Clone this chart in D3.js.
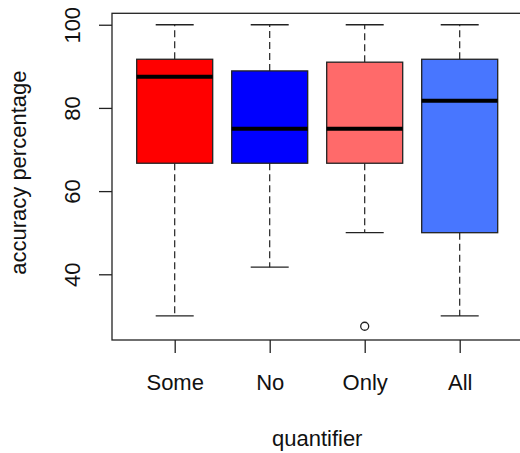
<!DOCTYPE html>
<html>
<head>
<meta charset="utf-8">
<script src="https://cdn.jsdelivr.net/npm/d3@7"></script>
<style>
  body { margin: 0; background: #fff; }
  svg { display: block; font-family: "Liberation Sans", Arial, sans-serif; }
</style>
</head>
<body>
<div id="chart"></div>
<script>
// values
const categories = ['Some', 'No', 'Only', 'All'];
const whiskerLow = [30, 41.7, 50, 30];
const q1 = [66.7, 66.7, 66.7, 50];
const medians = [87.5, 75, 75, 81.7];
const q3 = [91.7, 88.9, 91, 91.7];
const whiskerHigh = [100, 100, 100, 100];
const outliers = [[], [], [27.5], []];
const fills = ['#FF0000', '#0000FF', '#FF6A6A', '#4876FF'];
const yTicks = [40, 60, 80, 100];

const width = 520, height = 453;
const plotLeft = 112, plotTop = 13.3, plotBottom = 340, plotRight = 522.4;

const svg = d3.select('#chart').append('svg')
  .attr('width', width)
  .attr('height', height);

const x = d3.scaleLinear().domain([0.34, 4.66]).range([plotLeft, plotRight]);
const y = d3.scaleLinear().domain([24.2, 102.75]).range([plotBottom, plotTop]);

const boxes = categories.map((c, i) => ({
  name: c, pos: i + 1, lo: whiskerLow[i], q1: q1[i], med: medians[i],
  q3: q3[i], hi: whiskerHigh[i], out: outliers[i], fill: fills[i]
}));

const g = svg.append('g');

const box = g.selectAll('.box').data(boxes).enter().append('g').attr('class', 'box');

// whiskers
box.append('line')
  .attr('x1', d => x(d.pos)).attr('x2', d => x(d.pos))
  .attr('y1', d => y(d.q3)).attr('y2', d => y(d.hi))
  .attr('stroke', '#222').attr('stroke-width', 1.2).attr('stroke-dasharray', '7,4');
box.append('line')
  .attr('x1', d => x(d.pos)).attr('x2', d => x(d.pos))
  .attr('y1', d => y(d.q1)).attr('y2', d => y(d.lo))
  .attr('stroke', '#222').attr('stroke-width', 1.2).attr('stroke-dasharray', '7,4');

// staples
['hi', 'lo'].forEach(k => {
  box.append('line')
    .attr('x1', d => x(d.pos - 0.2)).attr('x2', d => x(d.pos + 0.2))
    .attr('y1', d => y(d[k])).attr('y2', d => y(d[k]))
    .attr('stroke', '#222').attr('stroke-width', 1.3);
});

box.append('rect')
  .attr('x', d => x(d.pos - 0.4))
  .attr('width', d => x(d.pos + 0.4) - x(d.pos - 0.4))
  .attr('y', d => y(d.q3))
  .attr('height', d => y(d.q1) - y(d.q3))
  .attr('fill', d => d.fill)
  .attr('stroke', '#222').attr('stroke-width', 1.3);

box.append('line')
  .attr('x1', d => x(d.pos - 0.4)).attr('x2', d => x(d.pos + 0.4))
  .attr('y1', d => y(d.med)).attr('y2', d => y(d.med))
  .attr('stroke', '#000').attr('stroke-width', 4);

box.selectAll('circle').data(d => d.out.map(v => ({ pos: d.pos, v }))).enter()
  .append('circle')
  .attr('cx', d => x(d.pos)).attr('cy', d => y(d.v))
  .attr('r', 4)
  .attr('fill', 'none').attr('stroke', '#222').attr('stroke-width', 1.3);

// frame
svg.append('rect')
  .attr('x', plotLeft).attr('y', plotTop)
  .attr('width', plotRight - plotLeft).attr('height', plotBottom - plotTop)
  .attr('fill', 'none').attr('stroke', '#222').attr('stroke-width', 1.3);

// y axis
const yAxis = svg.append('g')
  .attr('transform', `translate(${plotLeft},0)`)
  .call(d3.axisLeft(y).tickValues(yTicks).tickSize(13).tickPadding(0).tickFormat(d3.format('d')));
yAxis.select('.domain').remove();
yAxis.selectAll('line').attr('stroke', '#222').attr('stroke-width', 1.3);
yAxis.selectAll('text')
  .attr('x', null).attr('dy', null)
  .attr('transform', 'translate(-32,0) rotate(-90)')
  .attr('text-anchor', 'middle')
  .attr('fill', '#111')
  .style('font-size', '22px');

// x axis
const xAxis = svg.append('g')
  .attr('transform', `translate(0,${plotBottom})`)
  .call(d3.axisBottom(x).tickValues(boxes.map(d => d.pos)).tickSize(13).tickFormat(d => categories[d - 1]));
xAxis.select('.domain').remove();
xAxis.selectAll('line').attr('stroke', '#222').attr('stroke-width', 1.3);
xAxis.selectAll('text')
  .attr('y', 50).attr('dy', null)
  .attr('fill', '#111')
  .style('font-size', '22px');

svg.append('text')
  .attr('x', (plotLeft + plotRight) / 2).attr('y', 446)
  .attr('text-anchor', 'middle')
  .attr('fill', '#111')
  .style('font-size', '22px')
  .text('quantifier');

svg.append('text')
  .attr('transform', `translate(26,${(plotTop + plotBottom) / 2 - 4}) rotate(-90)`)
  .attr('text-anchor', 'middle')
  .attr('fill', '#111')
  .style('font-size', '22px')
  .text('accuracy percentage');
</script>
</body>
</html>
